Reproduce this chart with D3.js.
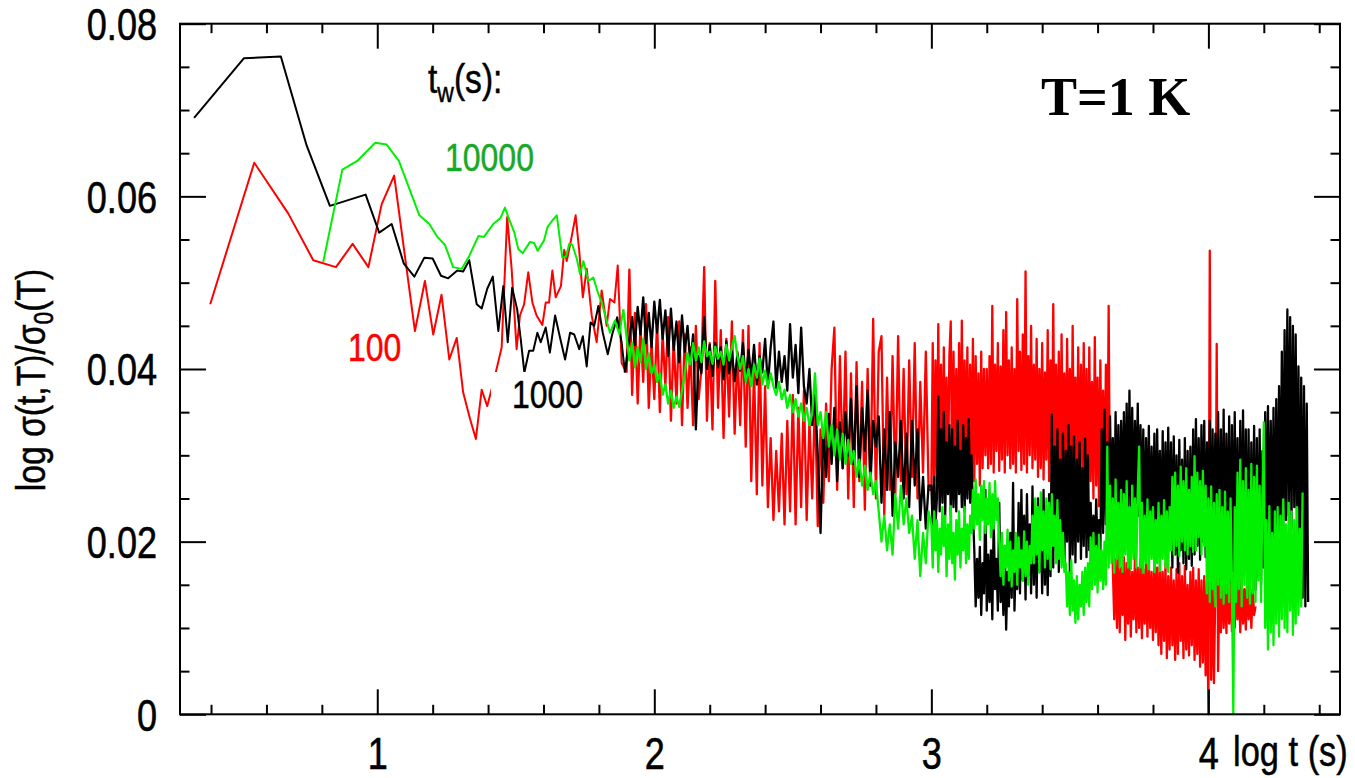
<!DOCTYPE html>
<html><head><meta charset="utf-8">
<script src="https://cdn.jsdelivr.net/npm/d3@7"></script>
<style>body{margin:0;background:#fff}svg{display:block}</style>
</head><body>
<svg id="chart" width="1355" height="778"></svg>
<script>
// ---------------- data ----------------
const xMajorTicks = [1, 2, 3, 4];
const xMinorTicks = [0.4,0.6,0.8,1.2,1.4,1.6,1.8,2.2,2.4,2.6,2.8,3.2,3.4,3.6,3.8,4.2,4.4];
const yMajorTicks = [0, 0.02, 0.04, 0.06, 0.08];
const yMinorTicks = [0.005,0.01,0.015,0.025,0.03,0.035,0.045,0.05,0.055,0.065,0.07,0.075];
const xLabel = "log t (s)";
const seriesNames = ["100", "1000", "10000"];

// early (sparse) part: log t and value
const redT = [0.397,0.556,0.679,0.769,0.851,0.911,0.968,1.016,1.061,1.136,1.172,1.202,1.232,1.260,1.287,1.310,1.335,1.356,1.377,1.397,1.419,1.449,1.469,1.485,1.503,1.515,1.530,1.545,1.560,1.575,1.596,1.608,1.620,1.632,1.644,1.663,1.675,1.684,1.698,1.716,1.729,1.742,1.756,1.774,1.792,1.810,1.828,1.840,1.856,1.868,1.882,1.900];
const redV = [0.0475,0.0639,0.0580,0.0526,0.0518,0.0545,0.0518,0.0591,0.0624,0.0444,0.0502,0.0440,0.0486,0.0411,0.0436,0.0373,0.0342,0.0319,0.0376,0.0357,0.0384,0.0425,0.0576,0.0516,0.0423,0.0462,0.0475,0.0512,0.0477,0.0462,0.0451,0.0477,0.0477,0.0514,0.0483,0.0496,0.0538,0.0525,0.0547,0.0578,0.0537,0.0483,0.0516,0.0462,0.0431,0.0491,0.0450,0.0481,0.0477,0.0520,0.0407,0.0396];

const blackT = [0.339,0.519,0.652,0.745,0.829,0.958,1.007,1.052,1.096,1.134,1.170,1.200,1.230,1.256,1.289,1.310,1.332,1.359,1.377,1.397,1.417,1.437,1.455,1.471,1.487,1.505,1.518,1.531,1.548,1.563,1.578,1.590,1.608,1.623,1.642,1.660,1.678,1.696,1.711,1.729,1.742,1.756,1.770,1.783,1.798,1.814,1.832,1.848,1.866,1.882,1.894];
const blackV = [0.0691,0.0760,0.0762,0.0659,0.0589,0.0602,0.0558,0.0568,0.0522,0.0507,0.0529,0.0528,0.0508,0.0505,0.0514,0.0513,0.0526,0.0475,0.0470,0.0493,0.0507,0.0444,0.0496,0.0431,0.0494,0.0469,0.0434,0.0396,0.0421,0.0421,0.0442,0.0431,0.0448,0.0419,0.0462,0.0436,0.0411,0.0442,0.0440,0.0423,0.0438,0.0403,0.0454,0.0450,0.0473,0.0442,0.0417,0.0440,0.0460,0.0431,0.0396];

const greenT = [0.805,0.874,0.928,0.992,1.034,1.078,1.152,1.188,1.217,1.244,1.274,1.305,1.332,1.365,1.385,1.419,1.445,1.461,1.473,1.495,1.509,1.525,1.551,1.566,1.579,1.602,1.614,1.632,1.648,1.668,1.681,1.693,1.704,1.720,1.732,1.744,1.762,1.780,1.796,1.810,1.840,1.858,1.874,1.888];
const greenV = [0.0524,0.0631,0.0641,0.0662,0.0660,0.0641,0.0578,0.0568,0.0553,0.0544,0.0518,0.0516,0.0531,0.0554,0.0553,0.0568,0.0575,0.0587,0.0576,0.0558,0.0539,0.0534,0.0547,0.0546,0.0537,0.0549,0.0564,0.0572,0.0578,0.0529,0.0530,0.0545,0.0544,0.0528,0.0510,0.0525,0.0502,0.0506,0.0489,0.0477,0.0442,0.0456,0.0440,0.0469];

// middle part: one value every 0.01 in log t from 1.91 to 2.99
const midStart = 1.91, midStep = 0.01;
const redMid = [
.0515,.0370,.0465,.0360,.0450,.0385,.0475,.0355,.0430,.0365,
.0455,.0350,.0440,.0380,.0460,.0340,.0435,.0360,.0455,.0335,
.0440,.0355,.0425,.0335,.0450,.0365,.0400,.0518,.0340,.0430,
.0330,.0502,.0355,.0445,.0320,.0435,.0345,.0455,.0325,.0420,
.0335,.0445,.0310,.0450,.0270,.0400,.0255,.0430,.0265,.0380,
.0240,.0320,.0225,.0305,.0235,.0325,.0220,.0340,.0235,.0370,
.0220,.0355,.0240,.0375,.0225,.0340,.0250,.0365,.0218,.0330,
.0245,.0360,.0270,.0400,.0448,.0260,.0415,.0285,.0420,.0250,
.0395,.0240,.0408,.0270,.0385,.0237,.0400,.0265,.0458,.0250,
.0420,.0438,.0230,.0390,.0260,.0415,.0255,.0438,.0270,.0400,
.0255,.0410,.0275,.0430,.0250,.0385,.0280,.0420,.0260];
const blackMid = [
.0435,.0460,.0428,.0472,.0440,.0483,.0430,.0465,.0425,.0478,
.0442,.0480,.0435,.0468,.0415,.0470,.0422,.0455,.0408,.0462,
.0420,.0450,.0405,.0440,.0330,.0415,.0395,.0460,.0400,.0428,
.0392,.0430,.0402,.0425,.0388,.0432,.0395,.0420,.0386,.0418,
.0398,.0430,.0385,.0422,.0390,.0428,.0382,.0415,.0396,.0435,
.0380,.0425,.0455,.0378,.0420,.0385,.0415,.0375,.0452,.0390,
.0428,.0372,.0448,.0380,.0360,.0400,.0335,.0370,.0300,.0210,
.0330,.0275,.0348,.0290,.0355,.0270,.0338,.0285,.0350,.0300,
.0365,.0290,.0380,.0275,.0355,.0305,.0375,.0265,.0340,.0310,
.0345,.0245,.0330,.0260,.0350,.0230,.0315,.0275,.0340,.0250,
.0325,.0240,.0340,.0265,.0330,.0225,.0275,.0215,.0265];
const greenMid = [
.0410,.0430,.0402,.0425,.0408,.0435,.0400,.0418,.0395,.0405,
.0385,.0395,.0370,.0382,.0360,.0375,.0355,.0368,.0356,.0375,
.0395,.0418,.0405,.0430,.0410,.0425,.0408,.0432,.0415,.0420,
.0406,.0426,.0412,.0420,.0405,.0428,.0410,.0425,.0438,.0415,
.0400,.0415,.0385,.0400,.0380,.0405,.0390,.0412,.0382,.0398,
.0378,.0395,.0380,.0370,.0385,.0365,.0376,.0355,.0370,.0350,
.0365,.0345,.0360,.0340,.0355,.0335,.0348,.0395,.0335,.0350,
.0320,.0350,.0310,.0335,.0300,.0330,.0295,.0325,.0290,.0318,
.0290,.0305,.0275,.0295,.0265,.0288,.0260,.0280,.0255,.0270,
.0235,.0200,.0230,.0190,.0220,.0185,.0255,.0215,.0265,.0220,
.0250,.0210,.0230,.0180,.0225,.0160,.0210,.0175,.0235];

// late part: one value every 0.005 in log t from 3.00
const lateStart = 3.00, lateStep = 0.005;
const redLate = [
.0260,.0430,.0255,.0410,.0270,
.0452,.0275,.0405,.0260,.0425,.0280,.0390,.0257,.0415,.0455,
.0270,.0420,.0290,.0400,.0265,.0430,.0285,.0456,.0275,.0410,
.0295,.0425,.0260,.0405,.0280,.0435,.0270,.0415,.0290,.0395,.0265,.0420,.0285,.0400,
.0300,.0400,.0285,.0415,.0290,.0473,.0280,.0405,.0305,.0430,
.0282,.0403,.0295,.0445,.0280,.0466,.0300,.0410,.0285,.0425,
.0290,.0400,.0280,.0481,.0305,.0420,.0283,.0440,.0290,.0513,
.0280,.0415,.0300,.0450,.0285,.0405,.0295,.0435,
.0275,.0400,.0285,.0430,.0272,.0396,.0295,.0445,.0270,.0410,
.0290,.0475,.0275,.0405,.0280,.0420,.0265,.0440,.0290,.0395,
.0270,.0435,.0285,.0400,.0260,.0450,.0290,.0390,.0275,.0425,.0265,.0405,.0280,.0430,
.0260,.0400,.0245,.0425,.0270,.0385,.0250,.0437,.0265,.0390,.0241,.0410,.0275,.0375,.0255,.0405,.0260,
.0473,
.0220,.0300,.0170,
.0110,.0180,.0100,.0187,.0095,.0170,.0115,.0182,.0086,.0175,
.0105,.0180,.0090,.0165,.0110,.0185,.0095,.0170,.0100,.0180,
.0088,.0168,.0105,.0175,.0090,.0180,.0100,.0165,.0086,.0178,.0095,
.0170,.0080,.0179,.0070,.0165,.0085,.0175,.0065,.0160,.0075,
.0170,.0080,.0155,.0063,.0168,.0070,.0175,.0085,.0160,.0065,
.0172,.0075,.0150,.0068,.0165,.0080,.0170,.0063,.0155,.0070,
.0168,.0055,.0155,.0060,.0160,.0045,
.0155,.0000,.0537,.0040,.0150,.0036,.0145,.0429,.0050,.0160,
.0095,.0164,.0100,.0155,.0094,.0160,.0105,.0150,.0096,.0162,
.0100,.0155,.0110,.0160,.0095,.0158,.0105,.0145,.0098,.0160,
.0110,.0150,.0100,.0145,.0115,.0125];
const blackLate = [
.0265,.0215,.0275,.0220,.0250,
.0368,.0235,.0330,.0245,.0350,.0230,.0315,.0255,.0335,.0230,
.0330,.0240,.0310,.0235,.0340,.0255,.0305,.0240,.0335,.0234,.0320,.0250,.0342,.0245,.0300,.0235,
.0190,.0125,.0180,.0135,.0194,.0115,.0175,.0140,.0260,.0120,
.0185,.0130,.0190,.0110,.0225,.0145,.0180,.0120,.0245,.0130,
.0170,.0115,.0195,.0098,.0165,.0125,.0210,.0135,.0268,.0120,.0185,.0145,
.0245,.0140,.0260,.0155,.0230,.0133,.0255,.0160,.0220,.0140,.0264,.0150,
.0235,.0135,.0250,.0165,.0240,.0140,.0260,.0150,.0225,.0138,.0255,.0160,
.0347,.0170,.0310,.0190,.0330,.0165,.0295,.0185,.0325,.0170,.0305,.0200,.0335,.0164,
.0310,.0185,.0322,.0176,.0295,.0200,.0315,.0180,.0285,.0195,.0320,.0182,.0300,.0190,
.0245,.0180,.0230,.0179,.0249,.0190,.0225,.0185,
.0330,.0210,.0353,.0220,.0315,.0205,.0345,.0230,.0320,.0202,.0350,.0225,.0335,.0210,.0340,.0235,
.0350,.0230,.0360,.0225,.0375,.0240,.0355,.0222,.0340,.0245,.0360,.0230,.0335,.0225,
.0330,.0195,.0320,.0210,.0334,.0187,.0310,.0205,.0325,.0190,.0330,.0215,.0305,.0195,.0328,.0188,.0315,.0200,.0332,.0192,
.0315,.0170,.0322,.0185,.0300,.0164,.0318,.0190,.0295,.0175,.0320,.0168,.0305,.0180,.0310,.0172,
.0330,.0185,.0342,.0195,.0320,.0179,.0335,.0200,.0340,.0182,.0315,.0190,.0340,.0180,.0330,.0205,.0325,.0185,
.0350,.0160,.0330,.0180,.0353,.0155,.0325,.0170,.0345,.0152,.0335,.0165,.0350,.0175,.0320,.0158,.0340,.0162,.0352,.0170,.0330,.0155,
.0330,.0150,.0315,.0165,.0334,.0144,.0320,.0160,.0330,.0150,.0305,.0170,
.0350,.0180,.0357,.0175,.0340,.0190,.0355,.0171,.0365,.0195,.0380,.0205,
.0420,.0210,.0445,.0225,.0469,.0230,.0460,.0215,.0450,.0240,
.0440,.0200,.0403,.0150,.0390,.0135,.0380,.0125,.0360,.0130];
const greenLate = [
.0220,.0170,.0235,.0190,.0225,.0165,.0215,.0185,.0240,.0195,.0230,.0160,.0220,.0180,.0241,
.0175,.0210,.0156,.0225,.0185,.0235,.0170,.0215,.0190,.0240,.0175,.0220,.0180,.0230,
.0210,.0260,.0215,.0272,.0220,.0255,.0202,.0265,.0225,.0270,.0210,.0250,.0220,.0268,.0205,.0255,.0215,.0270,.0225,.0250,
.0200,.0160,.0210,.0150,.0195,.0170,.0214,.0155,.0200,.0148,.0190,.0165,.0210,.0150,.0205,.0170,.0190,.0155,.0212,.0160,.0200,.0150,.0195,.0175,
.0230,.0175,.0250,.0185,.0240,.0164,.0257,.0190,.0235,.0170,.0250,.0180,.0245,.0168,.0255,.0195,.0230,.0175,.0248,.0180,.0225,.0170,.0210,.0165,
.0175,.0125,.0165,.0115,.0179,.0120,.0155,.0106,.0160,.0110,.0150,.0125,.0165,.0115,.0170,.0130,.0175,.0125,
.0205,.0145,.0210,.0150,.0195,.0141,.0208,.0155,.0190,.0145,.0200,.0150,
.0310,
.0170,.0265,.0175,.0250,.0164,.0272,.0180,.0245,.0170,.0260,.0165,.0255,.0185,.0270,.0170,.0240,.0168,.0265,.0180,.0250,.0170,.0260,
.0310,
.0170,.0245,.0164,.0230,.0175,.0249,.0168,.0235,.0180,.0240,.0165,.0225,.0175,.0245,.0166,.0230,.0180,.0248,.0170,.0235,.0165,.0240,
.0190,.0275,.0185,.0280,.0195,.0265,.0183,.0287,.0200,.0270,.0190,.0285,.0185,.0260,.0195,.0275,.0188,.0299,.0190,.0280,.0205,.0270,.0185,.0282,.0195,.0265,
.0140,.0250,.0130,.0264,.0145,.0245,.0125,.0255,.0150,.0260,.0135,.0240,.0128,.0258,.0140,.0235,.0130,.0250,
.0150,.0000,
.0240,.0130,.0280,.0145,.0295,.0125,.0270,.0150,.0285,.0135,.0260,.0128,.0290,.0140,.0275,.0130,.0288,.0155,.0265,.0130,.0250,
.0338,
.0100,.0225,.0075,.0241,.0095,.0210,.0080,.0235,.0105,
.0240,.0090,.0230,.0110,.0249,.0100,.0220,.0095,.0245,.0120,.0235,.0092,.0225,.0105,.0240,.0115,.0215,.0125,.0257];

// ---------------- chart ----------------
const svg = d3.select("#chart");
const plot = {left: 180, right: 1340, top: 23.7, bottom: 714.3};
const x = d3.scaleLinear().domain([0.288, 4.475]).range([plot.left, plot.right]);
const y = d3.scaleLinear().domain([0, 0.08]).range([plot.bottom, plot.top]);
const SANS = '"Liberation Sans", Arial, sans-serif';
const NARROW = 0.82;   // Arial Narrow = Arial squeezed horizontally

const series = [
  {name: seriesNames[0], color: "#ff0000", t: redT, v: redV, mid: redMid, late: redLate},
  {name: seriesNames[1], color: "#000000", t: blackT, v: blackV, mid: blackMid, late: blackLate},
  {name: seriesNames[2], color: "#00f000", t: greenT, v: greenV, mid: greenMid, late: greenLate}
];

const line = d3.line().x(d => x(d[0])).y(d => y(d[1]));
const lines = svg.append("g");
series.forEach(s => {
  const early = s.t.map((t, i) => [t, s.v[i]]);
  const dense = [early[early.length - 1]]
    .concat(s.mid.map((v, i) => [midStart + i * midStep, v]))
    .concat(s.late.map((v, i) => [lateStart + i * lateStep, v]));
  lines.append("path").attr("d", line(early))
    .attr("fill", "none").attr("stroke", s.color)
    .attr("stroke-width", 2).attr("stroke-linejoin", "round");
  lines.append("path").attr("d", line(dense))
    .attr("fill", "none").attr("stroke", s.color)
    .attr("stroke-width", 2.3).attr("stroke-linejoin", "round");
});

// axes (ticks inward on all four sides)
function axisGroup(axis, tx, ty) {
  const g = svg.append("g").attr("transform", `translate(${tx},${ty})`).call(axis);
  g.select(".domain").remove();
  g.selectAll(".tick line").attr("stroke", "#000").attr("stroke-width", 2);
  return g;
}
const gb = axisGroup(d3.axisBottom(x).tickValues(xMajorTicks).tickSize(-25).tickFormat(d3.format("d")), 0, plot.bottom);
gb.selectAll("text").attr("x", 0).attr("y", 55).attr("dy", 0)
  .attr("transform", `scale(${NARROW},1)`)
  .attr("font-family", SANS).attr("font-size", 44).attr("fill", "#000")
  .attr("stroke", "#000").attr("stroke-width", 0.6);
axisGroup(d3.axisBottom(x).tickValues(xMinorTicks).tickSize(-9.5).tickFormat(""), 0, plot.bottom);
axisGroup(d3.axisTop(x).tickValues(xMajorTicks).tickSize(-25).tickFormat(""), 0, plot.top);
axisGroup(d3.axisTop(x).tickValues(xMinorTicks).tickSize(-9.5).tickFormat(""), 0, plot.top);

const gl = axisGroup(d3.axisLeft(y).tickValues(yMajorTicks).tickSize(-26).tickFormat(d => d === 0 ? "0" : d3.format(".2f")(d)), plot.left, 0);
gl.selectAll("text").attr("x", -23 / NARROW).attr("dy", "0.36em")
  .attr("transform", `scale(${NARROW},1)`)
  .attr("font-family", SANS).attr("font-size", 44).attr("fill", "#000")
  .attr("stroke", "#000").attr("stroke-width", 0.6);
axisGroup(d3.axisLeft(y).tickValues(yMinorTicks).tickSize(-9.5).tickFormat(""), plot.left, 0);
axisGroup(d3.axisRight(y).tickValues(yMajorTicks).tickSize(-26).tickFormat(""), plot.right, 0);
axisGroup(d3.axisRight(y).tickValues(yMinorTicks).tickSize(-9.5).tickFormat(""), plot.right, 0);

// frame
svg.append("rect").attr("x", plot.left).attr("y", plot.top)
  .attr("width", plot.right - plot.left).attr("height", plot.bottom - plot.top)
  .attr("fill", "none").attr("stroke", "#000").attr("stroke-width", 2);

// narrow text helper
function narrowText(px, py, size, rotate, color) {
  const c = color || "#000";
  const g = svg.append("g").attr("transform",
    `translate(${px},${py})` + (rotate ? ` rotate(${rotate})` : "") + ` scale(${NARROW},1)`);
  return g.append("text").attr("font-family", SANS).attr("font-size", size)
    .attr("fill", c).attr("stroke", c).attr("stroke-width", 0.5);
}

// axis titles
narrowText(1233, 766, 42).text(xLabel);
const yl = narrowText(45, 380, 41, -90).attr("text-anchor", "middle");
yl.append("tspan").text("log σ(t,T)/σ");
yl.append("tspan").attr("font-size", 28).attr("dy", 8).text("0");
yl.append("tspan").attr("dy", -8).text("(T)");

// legend / annotations
const tw = narrowText(428, 93, 41);
tw.append("tspan").text("t");
tw.append("tspan").attr("font-size", 28).attr("dy", 9).text("w");
tw.append("tspan").attr("dy", -9).text("(s):");

narrowText(445, 171, 39, 0, "#18a828").text(series[2].name);
narrowText(348, 361, 39, 0, "#ff0000").text(series[0].name);
svg.append("rect").attr("x", 491).attr("y", 372).attr("width", 100).attr("height", 44).attr("fill", "#fff");
narrowText(512, 408, 39).text(series[1].name);

svg.append("text").attr("x", 1041).attr("y", 115)
  .attr("font-family", '"Liberation Serif","Times New Roman",serif')
  .attr("font-weight", "bold").attr("font-size", 54).text("T=1 K");
</script>
</body></html>
